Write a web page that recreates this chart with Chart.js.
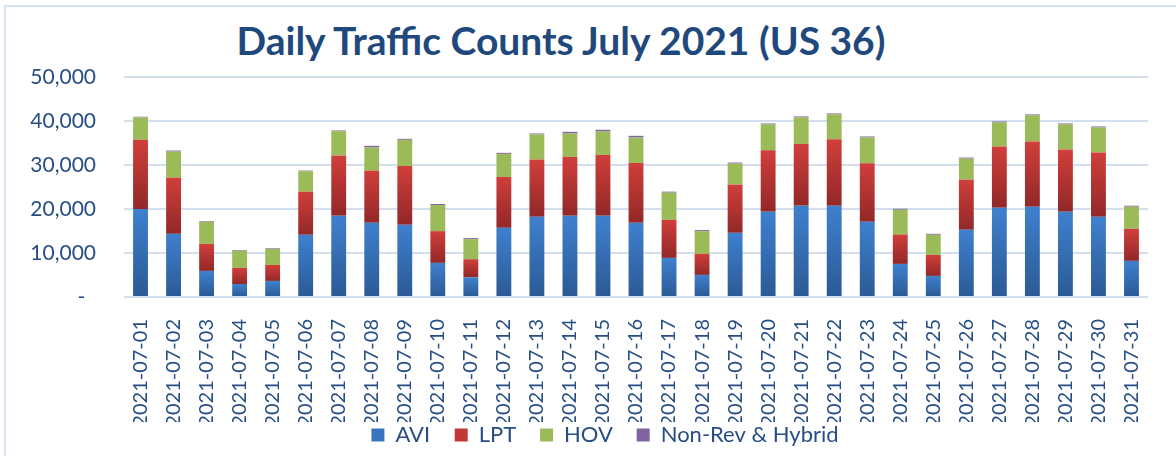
<!DOCTYPE html>
<html>
<head>
<meta charset="utf-8">
<script src="https://cdn.jsdelivr.net/npm/chart.js@4.4.1/dist/chart.umd.min.js"></script>
<style>
  html, body { margin: 0; padding: 0; background: #fff; }
  #wrap { position: relative; width: 1176px; height: 456px; overflow: hidden; }
  #frame { position: absolute; left: 4px; top: 5px; right: -10px; bottom: -10px;
           border-top: 2px solid #D6E2F2; border-left: 2px solid #D6E2F2; }
  #titulo { position: absolute; left: 0; width: 1122px; top: 17px; text-align: center;
            font-family: Lato, sans-serif; font-weight: bold; font-size: 39px; color: #1F497D; }
  canvas { position: absolute; left: 0; top: 0; }
</style>
</head>
<body>
<div id="wrap">
  <div id="frame"></div>
  <div id="titulo">Daily Traffic Counts July 2021 (US 36)</div>
  <canvas id="grafico" width="1176" height="456"></canvas>
</div>
<script>
// Dados
const dias = ['2021-07-01','2021-07-02','2021-07-03','2021-07-04','2021-07-05','2021-07-06','2021-07-07','2021-07-08',
  '2021-07-09','2021-07-10','2021-07-11','2021-07-12','2021-07-13','2021-07-14','2021-07-15','2021-07-16',
  '2021-07-17','2021-07-18','2021-07-19','2021-07-20','2021-07-21','2021-07-22','2021-07-23','2021-07-24',
  '2021-07-25','2021-07-26','2021-07-27','2021-07-28','2021-07-29','2021-07-30','2021-07-31'];
const avi = [20000,14360,5930,2960,3650,14140,18470,16870,16420,7750,4480,15730,18240,18470,18470,16870,
  8890,5020,14590,19380,20750,20750,17100,7520,4790,15280,20290,20520,19380,18240,8210];
const lpt = [15730,12770,6150,3650,3650,9800,13680,11860,13370,7220,4110,11550,13000,13370,13830,13610,
  8670,4780,10950,13980,14060,15120,13300,6690,4790,11400,13910,14820,14140,14590,7290];
const hov = [5090,5930,5020,3880,3640,4640,5550,5240,5930,5930,4560,5250,5700,5320,5320,5770,
  6150,5170,4780,5860,6000,5630,5850,5630,4560,4780,5470,5930,5700,5700,5020];
const nonRev = [150,230,150,150,150,150,150,380,230,230,230,230,220,380,380,380,
  230,230,230,220,230,220,230,220,220,230,230,230,220,230,230];
const yTicks = [0, 10000, 20000, 30000, 40000, 50000];

const corTexto = '#274E84';
const corGrade = '#D3DFEF';

// Gradiente vertical para cada segmento da barra
function gradienteSegmento(corTopo, corBase) {
    return (context) => {
        if (context.type !== 'data') return corTopo;
        const chart = context.chart;
        const escala = chart.scales.y;
        if (!escala || !chart.chartArea) return corTopo;
        const i = context.dataIndex;
        const d = context.datasetIndex;
        let base = 0;
        for (let k = 0; k < d; k++) base += chart.data.datasets[k].data[i];
        const topo = escala.getPixelForValue(base + chart.data.datasets[d].data[i]);
        const fundo = escala.getPixelForValue(base);
        if (!isFinite(topo) || !isFinite(fundo) || topo === fundo) return corTopo;
        const g = chart.ctx.createLinearGradient(0, topo, 0, fundo);
        g.addColorStop(0, corTopo);
        g.addColorStop(1, corBase);
        return g;
    };
}

const series = [
    { label: 'AVI', data: avi, backgroundColor: gradienteSegmento('#3F80CE', '#2B5A95') },
    { label: 'LPT', data: lpt, backgroundColor: gradienteSegmento('#D03F3B', '#922828') },
    { label: 'HOV', data: hov, backgroundColor: '#9BBB59' },
    { label: 'Non-Rev & Hybrid', data: nonRev, backgroundColor: '#8064A2' }
];
const coresLegenda = ['#3A74BE', '#C13835', '#9BBB59', '#8064A2'];

// Desloca a legenda um pouco para a direita, como no original
const ajusteLegenda = {
    id: 'ajusteLegenda',
    afterLayout(chart) {
        if (chart.legend) {
            chart.legend.left += 16;
            chart.legend.right += 16;
        }
    }
};

new Chart(document.getElementById('grafico'), {
    type: 'bar',
    data: {
        labels: dias,
        datasets: series.map(s => ({
            ...s,
            borderWidth: 0,
            categoryPercentage: 1,
            barPercentage: 0.45
        }))
    },
    plugins: [ajusteLegenda],
    options: {
        responsive: false,
        animation: false,
        layout: { padding: { left: 30, right: 28, top: 77, bottom: 0 } },
        plugins: {
            title: { display: false },
            tooltip: { enabled: false },
            legend: {
                position: 'bottom',
                labels: {
                    font: { family: 'Lato', size: 22 },
                    color: corTexto,
                    boxWidth: 13,
                    boxHeight: 13,
                    padding: 2,
                    // espaços no fim do texto para afastar os itens
                    generateLabels: (chart) => chart.data.datasets.map((ds, i, arr) => ({
                        text: i < arr.length - 1 ? ds.label + '\u00a0\u00a0\u00a0\u00a0' : ds.label,
                        fillStyle: coresLegenda[i],
                        strokeStyle: coresLegenda[i],
                        lineWidth: 0,
                        fontColor: corTexto,
                        hidden: false,
                        datasetIndex: i
                    }))
                }
            }
        },
        scales: {
            x: {
                stacked: true,
                grid: { display: false },
                border: { display: false },
                ticks: {
                    color: corTexto,
                    font: { family: 'Lato', size: 20 },
                    minRotation: 90,
                    maxRotation: 90,
                    autoSkip: false,
                    padding: 14
                },
                afterFit: (escala) => { escala.height = 125; }
            },
            y: {
                stacked: true,
                min: 0,
                max: 50000,
                afterBuildTicks: (escala) => { escala.ticks = yTicks.map(v => ({ value: v })); },
                grid: { color: corGrade, lineWidth: 2, drawTicks: false },
                border: { display: false },
                ticks: {
                    color: corTexto,
                    font: { family: 'Lato', size: 21 },
                    padding: 28,
                    callback: (v) => v === 0 ? '-  ' : Number(v).toLocaleString('en-US')
                },
                afterFit: (escala) => { escala.width = 94; }
            }
        }
    }
});
</script>
</body>
</html>
